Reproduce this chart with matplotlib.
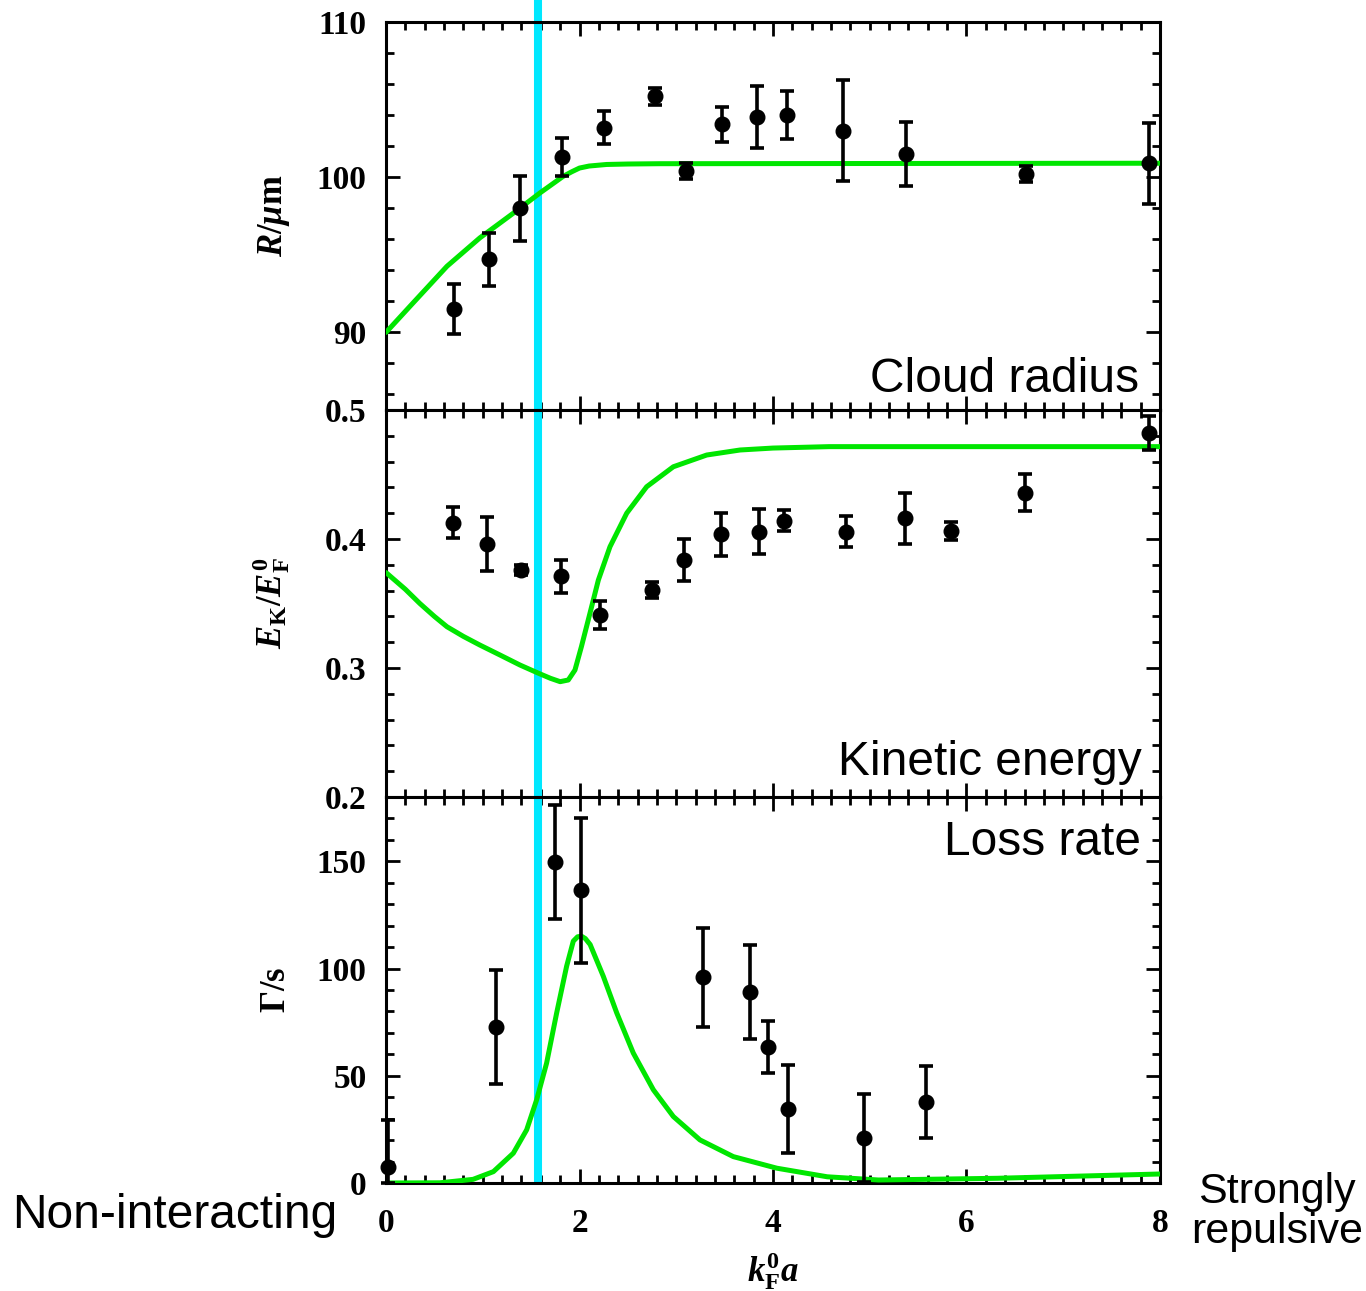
import numpy as np
import matplotlib.pyplot as plt
from matplotlib.ticker import MultipleLocator

# ---- data ----
# cloud radius
r_x = [0.70, 1.06, 1.39, 1.82, 2.25, 2.78, 3.10, 3.47, 3.83, 4.14, 4.72, 5.37, 6.61, 7.89]
r_y = [91.5, 94.7, 98.0, 101.3, 103.2, 105.2, 100.4, 103.4, 103.9, 104.0, 103.0, 101.5, 100.2, 100.9]
r_err = [1.6, 1.7, 2.1, 1.25, 1.07, 0.54, 0.5, 1.15, 2.0, 1.55, 3.25, 2.05, 0.5, 2.6]
r_fit_x = [0, 0.28, 0.63, 0.97, 1.32, 1.59, 1.83, 1.92, 2.0, 2.1, 2.28, 2.5, 2.83, 8]
r_fit_y = [90, 91.9, 94.26, 96.09, 97.7, 98.98, 100.05, 100.35, 100.59, 100.72, 100.82, 100.85, 100.87, 100.9]

# kinetic energy
e_x = [0.69, 1.04, 1.40, 1.81, 2.21, 2.75, 3.08, 3.46, 3.86, 4.11, 4.75, 5.36, 5.84, 6.60, 7.89]
e_y = [0.4126, 0.396, 0.376, 0.371, 0.341, 0.3605, 0.3837, 0.4036, 0.4057, 0.4142, 0.4057, 0.416, 0.4062, 0.4359, 0.482]
e_err = [0.012, 0.021, 0.004, 0.0125, 0.011, 0.0065, 0.016, 0.0164, 0.0173, 0.008, 0.012, 0.0196, 0.0072, 0.0145, 0.013]
e_fit_x = [0, 0.2, 0.35, 0.5, 0.63, 0.8, 0.97, 1.18, 1.385, 1.574, 1.70, 1.80, 1.884, 1.953, 2.02, 2.108,
           2.195, 2.315, 2.488, 2.694, 2.97, 3.315, 3.66, 4.0, 4.58, 8]
e_fit_y = [0.374, 0.361, 0.350, 0.340, 0.332, 0.3245, 0.3178, 0.310, 0.3023, 0.296, 0.292, 0.2894, 0.2907, 0.2984,
           0.3166, 0.3424, 0.3682, 0.394, 0.420, 0.4405, 0.456, 0.4651, 0.469, 0.4705, 0.4716, 0.4716]

# loss rate
g_x = [0.02, 1.14, 1.75, 2.02, 3.28, 3.76, 3.95, 4.16, 4.94, 5.585]
g_y = [7.6, 72.8, 149.7, 136.4, 95.9, 89.1, 63.4, 34.6, 20.9, 37.7]
g_err_lo = [7.6, 26.6, 26.5, 34, 23, 22, 12, 20.5, 20.5, 16.9]
g_err_hi = [22, 26.6, 26.5, 34, 23, 22, 12, 20.5, 20.5, 16.9]
g_fit_x = [0, 0.558, 0.90, 1.11, 1.316, 1.454, 1.557, 1.66, 1.764, 1.867, 1.936, 1.98, 2.02, 2.06, 2.11, 2.246,
           2.385, 2.556, 2.763, 2.97, 3.245, 3.59, 4.04, 4.56, 5.09, 6.32, 8]
g_fit_y = [0, 0.1, 1.7, 5.3, 13.9, 24.8, 38.8, 55.9, 79.3, 101.1, 112.8, 114.8, 115.1, 114.0, 111.2, 96.4,
           79.3, 60.6, 43.5, 31.0, 20.1, 12.3, 6.9, 2.9, 1.4, 2.2, 4.2]

x_cross = 1.57  # cyan marker line

GREEN = "#00e600"
CYAN = "#00e8ff"

plt.rcParams["mathtext.fontset"] = "custom"
plt.rcParams["mathtext.rm"] = "Liberation Serif:bold"
plt.rcParams["mathtext.bf"] = "Liberation Serif:bold"
plt.rcParams["mathtext.it"] = "Liberation Serif:italic:bold"

W, H = 1366, 1291
fig = plt.figure(figsize=(W / 100, H / 100), dpi=100)

left, right = 386 / W, 1160 / W
panels = [(22, 410), (410, 797), (797, 1183)]
axes = []
for top, bot in panels:
    ax = fig.add_axes([left, 1 - bot / H, right - left, (bot - top) / H])
    axes.append(ax)

def style(ax):
    for s in ax.spines.values():
        s.set_linewidth(2.2)
    ax.set_xlim(0, 8)
    ax.xaxis.set_major_locator(MultipleLocator(2))
    ax.xaxis.set_minor_locator(MultipleLocator(0.2))
    ax.tick_params(which="both", direction="in", top=True, right=True, width=2)
    ax.tick_params(which="major", length=10)
    ax.tick_params(which="minor", length=6)
    for lab in ax.get_yticklabels() + ax.get_xticklabels():
        lab.set_fontfamily("Liberation Serif")
        lab.set_fontweight("bold")
        lab.set_fontsize(24)

def fit(ax, fx, fy):
    ax.plot(fx, fy, color=GREEN, lw=3.6, zorder=3, solid_joinstyle="round", solid_capstyle="round")

def data(ax, x, y, err, fx, fy):
    fit(ax, fx, fy)
    ax.errorbar(x, y, yerr=err, fmt="o", color="black", ms=10.5, elinewidth=2.6,
                capsize=5, capthick=2.6, zorder=4, clip_on=False)

ax1, ax2, ax3 = axes

data(ax1, r_x, r_y, r_err, r_fit_x, r_fit_y)
ax1.set_ylim(85, 110)
ax1.set_yticks([90, 100, 110])
ax1.yaxis.set_minor_locator(MultipleLocator(2))
ax1.set_ylabel(r"$R/\mu\mathrm{m}$", fontsize=25)

data(ax2, e_x, e_y, e_err, e_fit_x, e_fit_y)
ax2.set_ylim(0.2, 0.5)
ax2.set_yticks([0.2, 0.3, 0.4, 0.5])
ax2.set_yticklabels(["0.2", "0.3", "0.4", "0.5"])
ax2.yaxis.set_minor_locator(MultipleLocator(0.02))
ax2.set_ylabel(r"$E_{\mathrm{K}}/E_{\mathrm{F}}^{0}$", fontsize=25)

fit(ax3, g_fit_x, g_fit_y)
ax3.errorbar(g_x, g_y, yerr=[g_err_lo, g_err_hi], fmt="o", color="black", ms=10.5, elinewidth=2.6,
             capsize=5, capthick=2.6, zorder=4, clip_on=False)
ax3.set_ylim(0, 180)
ax3.set_yticks([0, 50, 100, 150])
ax3.yaxis.set_minor_locator(MultipleLocator(10))
ax3.set_ylabel(r"$\Gamma/\mathrm{s}$", fontsize=25)
ax3.set_xlabel(r"$k_{\mathrm{F}}^{0}a$", fontsize=25, labelpad=8)

for ax in axes:
    style(ax)
    ax.yaxis.set_label_coords(-0.1215, 0.5)
    ax.tick_params(axis="y", pad=14)
ax1.tick_params(labelbottom=False)
ax2.tick_params(labelbottom=False)
ax3.tick_params(axis="x", pad=18)

# cyan vertical line through all panels (extends above the top panel)
ax1.axvline(x_cross, ymin=0, ymax=410 / 388, color=CYAN, lw=5.8, zorder=2, clip_on=False)
ax2.axvline(x_cross, color=CYAN, lw=5.8, zorder=2)
ax3.axvline(x_cross, color=CYAN, lw=5.8, zorder=2)

# panel titles
txt = dict(family="Liberation Sans", fontsize=34.5, ha="right", va="baseline")
ax1.text(0.973, 0.046, "Cloud radius", transform=ax1.transAxes, **txt)
ax2.text(0.976, 0.057, "Kinetic energy", transform=ax2.transAxes, **txt)
ax3.text(0.976, 0.85, "Loss rate", transform=ax3.transAxes, **txt)

fig.text(175 / W, 1 - 1216 / H, "Non-interacting", family="Liberation Sans",
         fontsize=34.5, ha="center", va="center")
fig.text(1277 / W, 1 - 1212 / H, "Strongly\nrepulsive", family="Liberation Sans",
         fontsize=31, ha="center", va="center", linespacing=1.0)

fig.savefig("out.png", dpi=100, facecolor="white")
